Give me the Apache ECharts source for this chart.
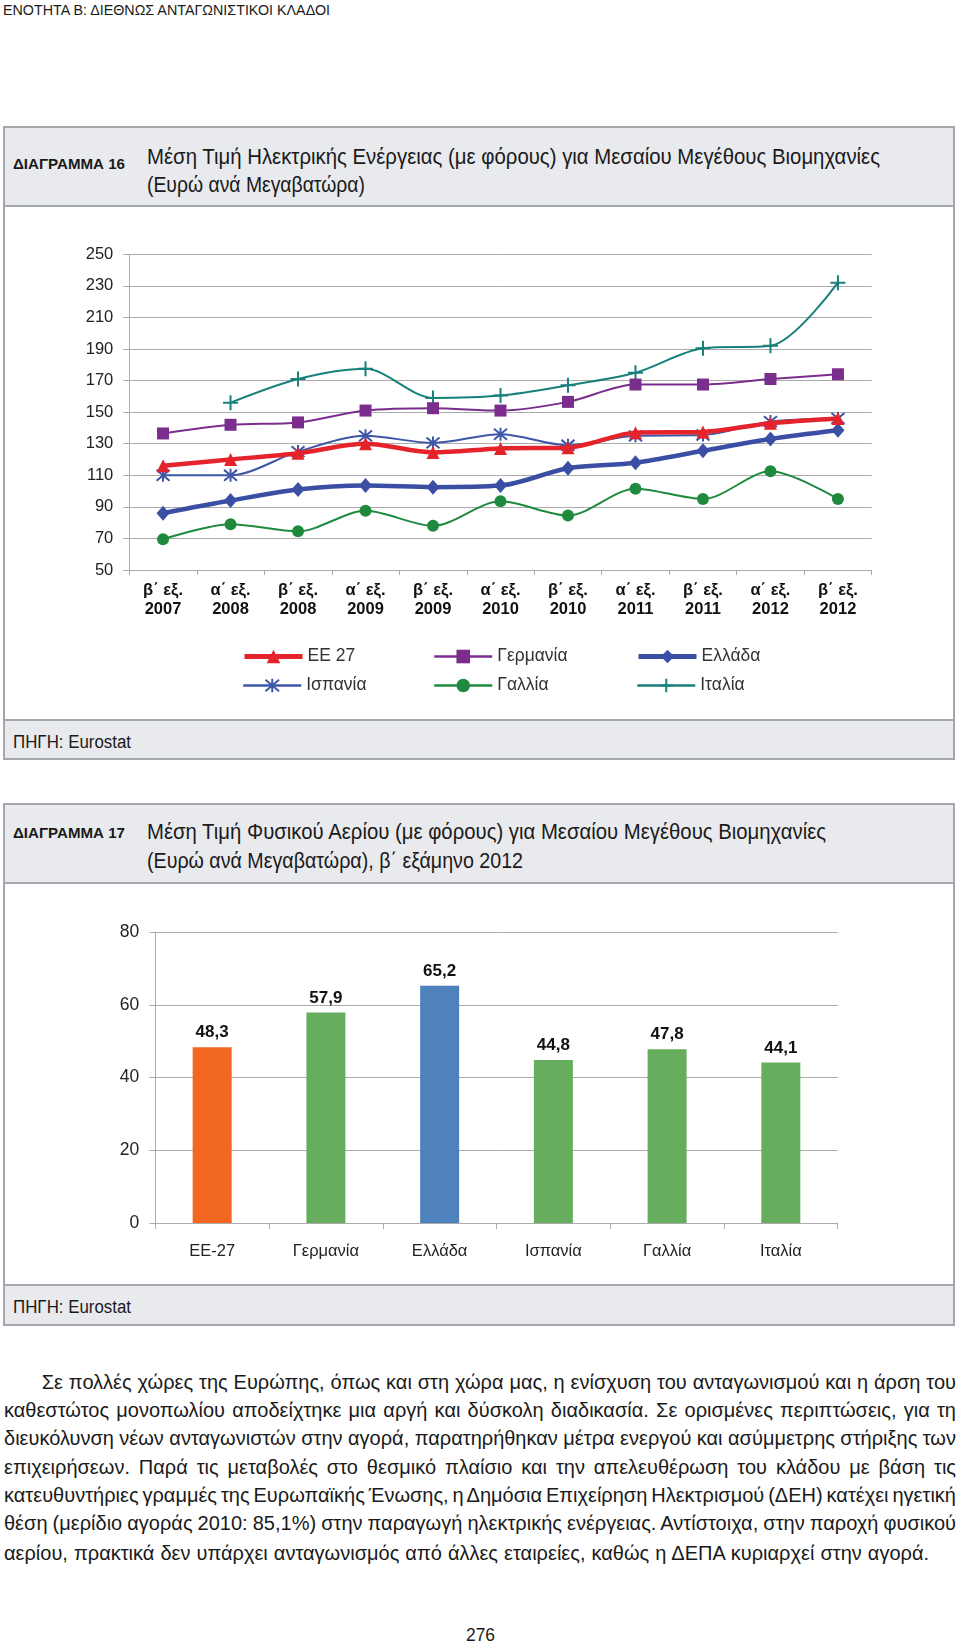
<!DOCTYPE html>
<html><head><meta charset="utf-8">
<script src="https://cdn.jsdelivr.net/npm/echarts@6/dist/echarts.min.js"></script>
<style>
body{margin:0;width:960px;height:1644px;position:relative;background:#fff;font-family:'Liberation Sans',Arial,sans-serif;color:#1a1a1a;overflow:hidden}
.box{position:absolute;box-sizing:border-box;border:2px solid #a4a7ac}
.hdr{background:#e9eaee}
.t{position:absolute;white-space:nowrap;line-height:24px;height:24px;transform-origin:0 50%}
#chart{position:absolute;left:0;top:0;width:960px;height:1644px;z-index:2}
</style></head>
<body>
<div class="t" style="left:3px;top:-2px;font-size:15px" data-w="327">ΕΝΟΤΗΤΑ Β: ΔΙΕΘΝΩΣ ΑΝΤΑΓΩΝΙΣΤΙΚΟΙ ΚΛΑΔΟΙ</div>

<div class="box" style="left:3px;top:126px;width:952px;height:634px"></div>
<div class="box hdr" style="left:3px;top:126px;width:952px;height:81px"></div>
<div class="box hdr" style="left:3px;top:719px;width:952px;height:41px"></div>
<div class="t" style="left:12.7px;top:152px;font-size:15px;font-weight:bold" data-w="112">ΔΙΑΓΡΑΜΜΑ 16</div>
<div class="t" style="left:147px;top:145px;font-size:22.5px" data-w="733">Μέση Τιμή Ηλεκτρικής Ενέργειας (με φόρους) για Μεσαίου Μεγέθους Βιομηχανίες</div>
<div class="t" style="left:147px;top:173px;font-size:22.5px" data-w="218">(Ευρώ ανά Μεγαβατώρα)</div>
<div class="t" style="left:12.7px;top:730px;font-size:18px" data-w="118">ΠΗΓΗ: Eurostat</div>

<div class="box" style="left:3px;top:803px;width:952px;height:523px"></div>
<div class="box hdr" style="left:3px;top:803px;width:952px;height:81px"></div>
<div class="box hdr" style="left:3px;top:1284px;width:952px;height:42px"></div>
<div class="t" style="left:12.7px;top:821px;font-size:15px;font-weight:bold" data-w="112">ΔΙΑΓΡΑΜΜΑ 17</div>
<div class="t" style="left:147px;top:820px;font-size:22.5px" data-w="679">Μέση Τιμή Φυσικού Αερίου (με φόρους) για Μεσαίου Μεγέθους Βιομηχανίες</div>
<div class="t" style="left:147px;top:849px;font-size:22.5px" data-w="376">(Ευρώ ανά Μεγαβατώρα), β΄ εξάμηνο 2012</div>
<div class="t" style="left:12.7px;top:1294.5px;font-size:18px" data-w="118">ΠΗΓΗ: Eurostat</div>

<div class="t" style="left:41.7px;top:1369.7px;font-size:20px" data-j="914.3">Σε πολλές χώρες της Ευρώπης, όπως και στη χώρα μας, η ενίσχυση του ανταγωνισμού και η άρση του</div>
<div class="t" style="left:4px;top:1398px;font-size:20px" data-j="952">καθεστώτος μονοπωλίου αποδείχτηκε μια αργή και δύσκολη διαδικασία. Σε ορισμένες περιπτώσεις, για τη</div>
<div class="t" style="left:4px;top:1426.3px;font-size:20px" data-j="952">διευκόλυνση νέων ανταγωνιστών στην αγορά, παρατηρήθηκαν μέτρα ενεργού και ασύμμετρης στήριξης των</div>
<div class="t" style="left:4px;top:1454.7px;font-size:20px" data-j="952">επιχειρήσεων. Παρά τις μεταβολές στο θεσμικό πλαίσιο και την απελευθέρωση του κλάδου με βάση τις</div>
<div class="t" style="left:4px;top:1483px;font-size:20px" data-j="952">κατευθυντήριες γραμμές της Ευρωπαϊκής Ένωσης, η Δημόσια Επιχείρηση Ηλεκτρισμού (ΔΕΗ) κατέχει ηγετική</div>
<div class="t" style="left:4px;top:1511.3px;font-size:20px" data-j="952">θέση (μερίδιο αγοράς 2010: 85,1%) στην παραγωγή ηλεκτρικής ενέργειας. Αντίστοιχα, στην παροχή φυσικού</div>
<div class="t" style="left:4px;top:1540.7px;font-size:20px" data-j="925">αερίου, πρακτικά δεν υπάρχει ανταγωνισμός από άλλες εταιρείες, καθώς η ΔΕΠΑ κυριαρχεί στην αγορά.</div>
<div class="t" style="left:466px;top:1623px;font-size:18px" data-w="29">276</div>

<div id="chart"></div>
<script>
// ---------- data: chart 16 ----------
const periods16 = ['β΄ εξ.\n2007','α΄ εξ.\n2008','β΄ εξ.\n2008','α΄ εξ.\n2009','β΄ εξ.\n2009','α΄ εξ.\n2010','β΄ εξ.\n2010','α΄ εξ.\n2011','β΄ εξ.\n2011','α΄ εξ.\n2012','β΄ εξ.\n2012'];
const names16 = ['ΕΕ 27','Γερμανία','Ελλάδα','Ισπανία','Γαλλία','Ιταλία'];
const ee27     = [116, 120, 124, 130, 124.5, 127, 127.5, 137, 137.5, 143, 146];
const germany  = [136.5, 142, 143.5, 151, 152.5, 151, 156.5, 167.5, 167.5, 171, 174];
const greece   = [86, 94, 101, 103.5, 102.5, 103.5, 114.5, 118, 125.5, 133, 138.5];
const spain    = [110, 110, 125, 135, 130.5, 136, 129, 135, 135.5, 144, 146];
const france   = [69.5, 79, 74.5, 87.5, 78, 93.5, 84.5, 101.5, 95, 112.5, 95];
const italy    = [null, 156, 171, 177.5, 159, 160.5, 167, 175, 190.5, 192, 232];
const yTicks16 = {min: 50, max: 250, step: 20};

// ---------- data: chart 17 ----------
const countries17 = ['ΕΕ-27','Γερμανία','Ελλάδα','Ισπανία','Γαλλία','Ιταλία'];
const gasPrice17  = [48.3, 57.9, 65.2, 44.8, 47.8, 44.1];
const yTicks17 = {min: 0, max: 80, step: 20};

// ---------- styles ----------
const FONT = "'Liberation Sans', Arial, sans-serif";
const GRID_C = '#ababab';
const lineStyles = [
  {color:'#e5232b', width:4.5, symbol:'triangle', size:13},
  {color:'#7a2d8c', width:2, symbol:'rect', size:12},
  {color:'#3a4fa4', width:4.5, symbol:'diamond', size:[13,15]},
  {color:'#3d56a7', width:2, symbol:'path://M0 0L10 10M10 0L0 10M5 -1L5 11', size:13, stroke:2},
  {color:'#1f8a3e', width:2, symbol:'circle', size:12},
  {color:'#17807a', width:2, symbol:'path://M5 0L5 10M0 5L10 5', size:15, stroke:2}
];
const barPalette = {'ΕΕ-27':'#f26722','Ελλάδα':'#4f81bd'};
const barDefault = '#66ad5e';

const data16 = [ee27, germany, greece, spain, france, italy];

const series = data16.map((d, i) => {
  const s = lineStyles[i];
  return {
    name: names16[i], type: 'line', xAxisIndex: 0, yAxisIndex: 0,
    data: d, smooth: 0.3, symbol: s.symbol, symbolSize: s.size, showAllSymbol: true,
    lineStyle: {color: s.color, width: s.width},
    itemStyle: {color: s.color, borderColor: s.color, borderWidth: s.stroke || 0},
    z: 10 - i
  };
});
series.push({
  name: 'Φυσικό Αέριο', type: 'bar', xAxisIndex: 1, yAxisIndex: 1,
  barWidth: 39,
  data: gasPrice17.map((v, i) => ({value: v, itemStyle: {color: barPalette[countries17[i]] || barDefault}})),
  label: {show: true, position: 'top', distance: 6, fontFamily: FONT, fontWeight: 'bold', fontSize: 17, color: '#111',
          formatter: p => String(p.value).replace('.', ',')}
});

const legendPos = [[242,647.5],[433,647.5],[636,647.5],[242,676.5],[433,676.5],[636,676.5]];
const legends = names16.map((n, i) => ({
  data: [n], left: legendPos[i][0], top: legendPos[i][1], padding: 0,
  itemWidth: 58, itemHeight: 17, selectedMode: false,
  lineStyle: {width: lineStyles[i].width + 0.5},
  textStyle: {fontFamily: FONT, fontSize: 17.5, color: '#333'}
}));

const axisLineStyle = {lineStyle: {color: GRID_C, width: 1}};
const option = {
  animation: false,
  textStyle: {fontFamily: FONT},
  legend: legends,
  grid: [
    {left: 129.3, top: 254.3, width: 742.4, height: 315.7},
    {left: 155.3, top: 932, width: 682.4, height: 291}
  ],
  xAxis: [
    {type: 'category', gridIndex: 0, data: periods16, boundaryGap: true,
     axisLine: axisLineStyle, axisTick: {show: true, length: 5, interval: 0, lineStyle: {color: GRID_C}},
     axisLabel: {interval: 0, margin: 11, fontFamily: FONT, fontSize: 16.5, fontWeight: 'bold', lineHeight: 19, color: '#111'}},
    {type: 'category', gridIndex: 1, data: countries17, boundaryGap: true,
     axisLine: axisLineStyle, axisTick: {show: true, length: 6, interval: 0, lineStyle: {color: GRID_C}},
     axisLabel: {interval: 0, margin: 20, fontFamily: FONT, fontSize: 16.5, color: '#222'}}
  ],
  yAxis: [
    {type: 'value', gridIndex: 0, min: yTicks16.min, max: yTicks16.max, interval: yTicks16.step,
     axisLine: {show: true, lineStyle: {color: GRID_C}}, axisTick: {show: true, length: 6, lineStyle: {color: GRID_C}},
     splitLine: {show: true, lineStyle: {color: GRID_C, width: 1}},
     axisLabel: {margin: 16, fontFamily: FONT, fontSize: 16.5, color: '#222'}},
    {type: 'value', gridIndex: 1, min: yTicks17.min, max: yTicks17.max, interval: yTicks17.step,
     axisLine: {show: true, lineStyle: {color: GRID_C}}, axisTick: {show: true, length: 6, lineStyle: {color: GRID_C}},
     splitLine: {show: true, lineStyle: {color: GRID_C, width: 1}},
     axisLabel: {margin: 16, fontFamily: FONT, fontSize: 17.5, color: '#222'}}
  ],
  series: series
};

// ---------- text fitting ----------
document.querySelectorAll('[data-w]').forEach(el => {
  const w = el.getBoundingClientRect().width;
  el.style.transform = 'scaleX(' + (+el.dataset.w / w) + ')';
});
document.querySelectorAll('[data-j]').forEach(el => {
  const w = el.getBoundingClientRect().width;
  const n = (el.textContent.match(/ /g) || []).length;
  el.style.wordSpacing = ((+el.dataset.j - w) / n) + 'px';
});

const chart = echarts.init(document.getElementById('chart'), null, {renderer: 'canvas'});
chart.setOption(option);
</script>
</body></html>
